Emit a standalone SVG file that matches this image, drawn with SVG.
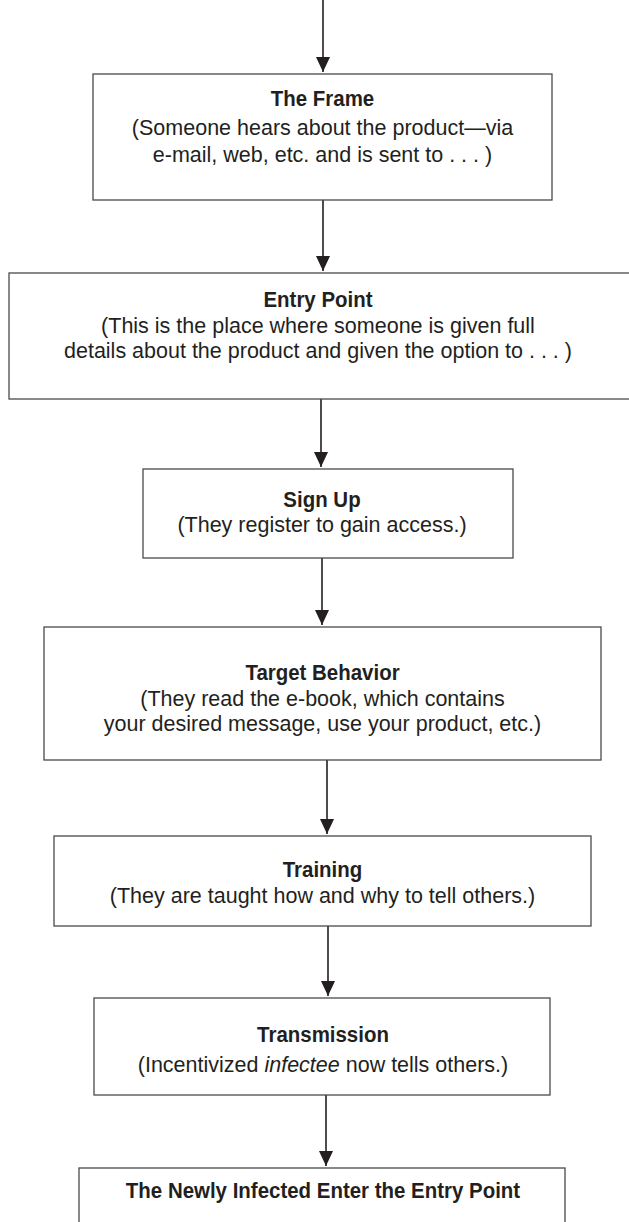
<svg xmlns="http://www.w3.org/2000/svg" width="629" height="1222" viewBox="0 0 629 1222">
<defs>
<style>
.box{fill:#fff;stroke:#4a4a4a;stroke-width:1.3}
.t{font-family:"Liberation Sans",Arial,sans-serif;font-weight:bold;font-size:22px;fill:#231f20;text-anchor:middle}
.b{font-family:"Liberation Sans",Arial,sans-serif;font-size:21.5px;fill:#231f20;text-anchor:middle}
.c{stroke:#231f20;stroke-width:1.6;fill:none}
</style>
<marker id="ah" markerUnits="userSpaceOnUse" markerWidth="15" markerHeight="14" refX="15" refY="7" orient="auto">
<path d="M0,0 L15,7 L0,14 z" fill="#231f20"/>
</marker>
</defs>
<rect width="629" height="1222" fill="#fff"/>
<g id="connectors">
<line class="c" x1="323" y1="0" x2="323" y2="72" marker-end="url(#ah)"/>
<line class="c" x1="323" y1="200" x2="323" y2="271" marker-end="url(#ah)"/>
<line class="c" x1="321" y1="399" x2="321" y2="467" marker-end="url(#ah)"/>
<line class="c" x1="322" y1="558" x2="322" y2="625" marker-end="url(#ah)"/>
<line class="c" x1="327" y1="760" x2="327" y2="834" marker-end="url(#ah)"/>
<line class="c" x1="328" y1="926" x2="328" y2="996" marker-end="url(#ah)"/>
<line class="c" x1="326" y1="1095" x2="326" y2="1166" marker-end="url(#ah)"/>
</g>
<g id="frame">
<rect class="box" x="93" y="74" width="459" height="126"/>
<text class="t" transform="translate(322.5,106) scale(0.93,1)">The Frame</text>
<text class="b" x="322.5" y="135">(Someone hears about the product—via</text>
<text class="b" x="322.5" y="162">e-mail, web, etc. and is sent to . . . )</text>
</g>
<g id="entry-point">
<rect class="box" x="9" y="273" width="630" height="126"/>
<text class="t" transform="translate(318,307) scale(0.93,1)">Entry Point</text>
<text class="b" x="318" y="333">(This is the place where someone is given full</text>
<text class="b" x="318" y="358">details about the product and given the option to . . . )</text>
</g>
<g id="sign-up">
<rect class="box" x="143" y="469" width="370" height="89"/>
<text class="t" transform="translate(322,507) scale(0.93,1)">Sign Up</text>
<text class="b" x="322" y="532">(They register to gain access.)</text>
</g>
<g id="target-behavior">
<rect class="box" x="44" y="627" width="557" height="133"/>
<text class="t" transform="translate(322.5,680) scale(0.93,1)">Target Behavior</text>
<text class="b" x="322.5" y="706">(They read the e-book, which contains</text>
<text class="b" x="322.5" y="731">your desired message, use your product, etc.)</text>
</g>
<g id="training">
<rect class="box" x="54" y="836" width="537" height="90"/>
<text class="t" transform="translate(322.5,877) scale(0.93,1)">Training</text>
<text class="b" x="322.5" y="903">(They are taught how and why to tell others.)</text>
</g>
<g id="transmission">
<rect class="box" x="94" y="998" width="456" height="97"/>
<text class="t" transform="translate(323,1042) scale(0.93,1)">Transmission</text>
<text class="b" x="323" y="1072">(Incentivized <tspan font-style="italic">infectee</tspan> now tells others.)</text>
</g>
<g id="newly-infected">
<rect class="box" x="79" y="1168" width="486" height="70"/>
<text class="t" transform="translate(323,1198) scale(0.93,1)">The Newly Infected Enter the Entry Point</text>
</g>
</svg>
